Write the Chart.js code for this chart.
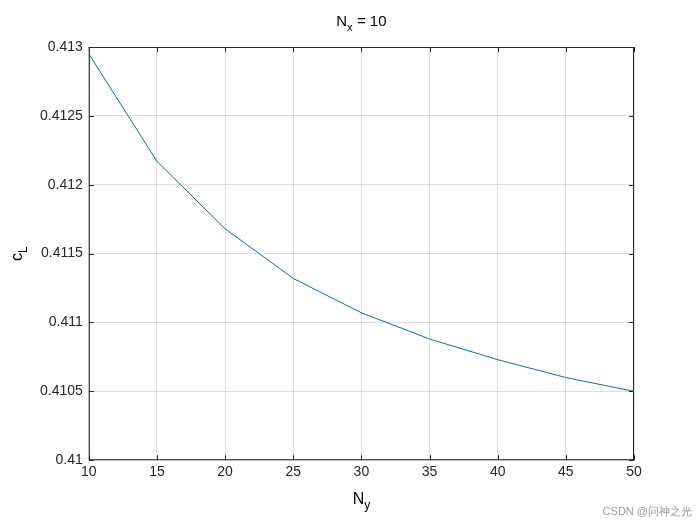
<!DOCTYPE html>
<html>
<head>
<meta charset="utf-8">
<script src="https://cdn.jsdelivr.net/npm/chart.js@4/dist/chart.umd.min.js"></script>
<style>
  body { margin: 0; background: #fff; }
</style>
</head>
<body>
<canvas id="chart" width="700" height="525"></canvas>
<script>
const nyValues = [10, 15, 20, 25, 30, 35, 40, 45, 50];
const clValues = [0.41295, 0.41217, 0.41168, 0.41132, 0.41107, 0.41088, 0.41073, 0.41060, 0.41050];
const xTicks = [10, 15, 20, 25, 30, 35, 40, 45, 50];
const yTicks = [0.41, 0.4105, 0.411, 0.4115, 0.412, 0.4125, 0.413];

const FONT = 'Liberation Sans, Arial, sans-serif';

// MATLAB-like frame, inner ticks and subscripted labels
const decor = {
  id: 'decor',
  afterDraw(chart) {
    const { ctx, chartArea: a, scales } = chart;
    ctx.save();
    ctx.strokeStyle = '#262626';
    ctx.lineWidth = 1;
    ctx.strokeRect(a.left + 0.5, a.top + 0.5, a.width - 1, a.height - 1);
    ctx.beginPath();
    xTicks.forEach((v) => {
      const x = Math.round(scales.x.getPixelForValue(v)) + 0.5;
      ctx.moveTo(x, a.bottom); ctx.lineTo(x, a.bottom - 5);
      ctx.moveTo(x, a.top); ctx.lineTo(x, a.top + 5);
    });
    yTicks.forEach((v) => {
      const y = Math.round(scales.y.getPixelForValue(v)) + 0.5;
      ctx.moveTo(a.left, y); ctx.lineTo(a.left + 5, y);
      ctx.moveTo(a.right, y); ctx.lineTo(a.right - 5, y);
    });
    ctx.stroke();

    ctx.fillStyle = '#000';
    ctx.textBaseline = 'alphabetic';
    ctx.textAlign = 'left';
    const widths = (base, s, size) => {
      ctx.font = `${size}px ${FONT}`;
      const w1 = ctx.measureText(base).width;
      ctx.font = `${size * 0.75}px ${FONT}`;
      const w2 = ctx.measureText(s).width;
      return { w1, w2 };
    };
    // title
    let size = 15;
    ctx.font = `${size}px ${FONT}`;
    const wA = ctx.measureText('N').width, wC = ctx.measureText(' = 10').width;
    ctx.font = `${size * 0.75}px ${FONT}`;
    const wB = ctx.measureText('x').width;
    let x0 = (a.left + a.right) / 2 - (wA + wB + wC) / 2;
    ctx.font = `${size}px ${FONT}`;
    ctx.fillText('N', x0, 26);
    ctx.font = `${size * 0.75}px ${FONT}`;
    ctx.fillText('x', x0 + wA, 31);
    ctx.font = `${size}px ${FONT}`;
    ctx.fillText(' = 10', x0 + wA + wB, 26);

    // x label N_y
    size = 16;
    const m = widths('N', 'y', size);
    x0 = (a.left + a.right) / 2 - (m.w1 + m.w2) / 2;
    ctx.font = `${size}px ${FONT}`;
    ctx.fillText('N', x0, a.bottom + 44);
    ctx.font = `${size * 0.75}px ${FONT}`;
    ctx.fillText('y', x0 + m.w1, a.bottom + 49);

    // y label c_L
    ctx.translate(22, (a.top + a.bottom) / 2);
    ctx.rotate(-Math.PI / 2);
    const m2 = widths('c', 'L', size);
    x0 = -(m2.w1 + m2.w2) / 2;
    ctx.font = `${size}px ${FONT}`;
    ctx.fillText('c', x0, 0);
    ctx.font = `${size * 0.75}px ${FONT}`;
    ctx.fillText('L', x0 + m2.w1, 5);
    ctx.restore();

    // watermark
    ctx.save();
    ctx.font = `11px ${FONT}`;
    ctx.fillStyle = '#9a9a9a';
    ctx.textAlign = 'right';
    ctx.fillText('CSDN @问神之光', 692, 515);
    ctx.restore();
  }
};

new Chart(document.getElementById('chart'), {
  type: 'line',
  data: {
    datasets: [{
      data: nyValues.map((v, i) => ({ x: v, y: clValues[i] })),
      borderColor: '#0072bd',
      borderWidth: 1,
      pointRadius: 0,
      tension: 0,
      fill: false
    }]
  },
  options: {
    responsive: false,
    animation: false,
    devicePixelRatio: 1,
    layout: { padding: { left: 34, right: 66, top: 47, bottom: 40 } },
    plugins: { legend: { display: false }, tooltip: { enabled: false } },
    scales: {
      x: {
        type: 'linear', min: 10, max: 50,
        afterBuildTicks: (s) => { s.ticks = xTicks.map((v) => ({ value: v })); },
        ticks: { color: '#262626', font: { family: FONT, size: 14 }, padding: 4 },
        grid: { color: 'rgba(0,0,0,0.13)', drawTicks: false },
        border: { display: false }
      },
      y: {
        min: 0.41, max: 0.413,
        afterBuildTicks: (s) => { s.ticks = yTicks.map((v) => ({ value: v })); },
        ticks: { color: '#262626', font: { family: FONT, size: 14 }, padding: 6,
          callback: (v) => String(+v.toFixed(4)) },
        grid: { color: 'rgba(0,0,0,0.13)', drawTicks: false },
        border: { display: false }
      }
    }
  },
  plugins: [decor]
});
</script>
</body>
</html>
